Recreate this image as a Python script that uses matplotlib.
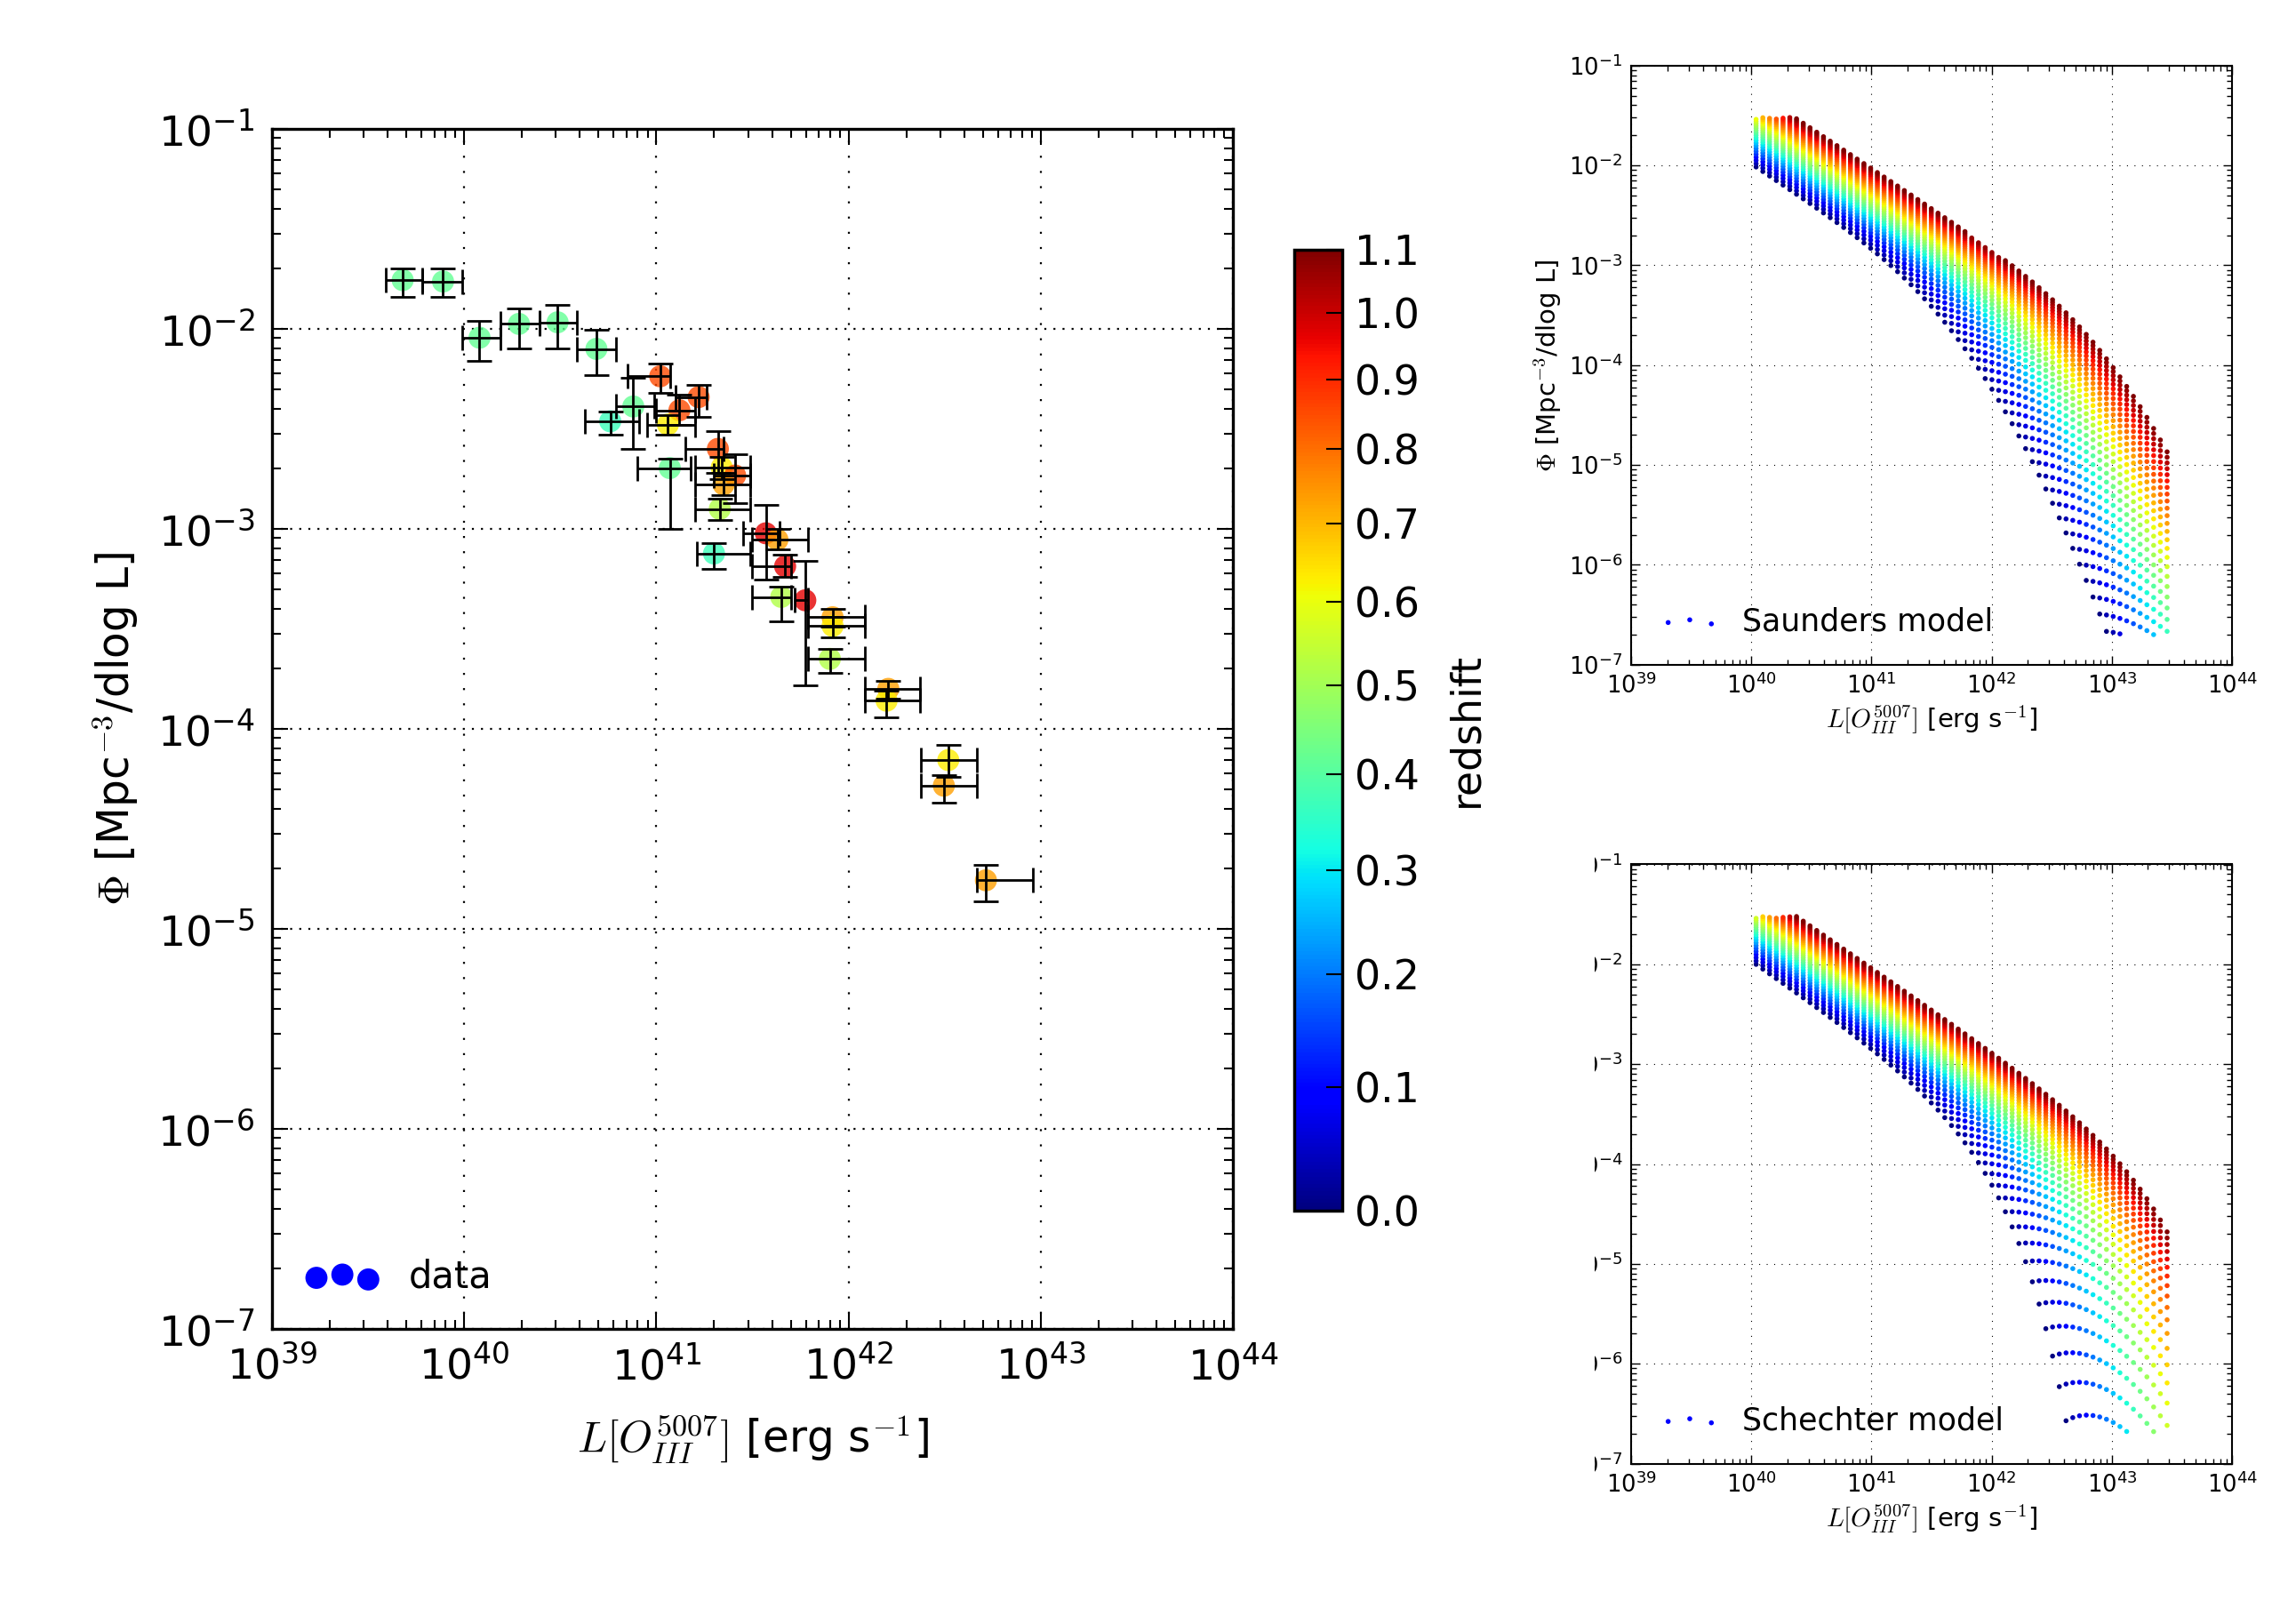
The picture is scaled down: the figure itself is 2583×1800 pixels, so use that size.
import numpy as np
import matplotlib
matplotlib.use("Agg")
import matplotlib.pyplot as plt
from matplotlib import rc
import matplotlib.cm as cm
from matplotlib.patches import Rectangle
from matplotlib.ticker import LogLocator, NullFormatter

rc('mathtext', fontset='cm')
plt.rcParams['font.family'] = ['DejaVu Sans']

# data: log10 L[OIII], log10 Phi, bin edges / error limits, redshift
logL = np.array([39.68, 39.89, 40.08, 40.285, 40.486, 40.688, 41.02, 40.76,
                 40.88, 41.12, 41.22, 41.06, 41.07, 41.32, 41.34, 41.41,
                 41.35, 41.33, 41.30, 41.57, 41.63, 41.67, 41.65, 41.775,
                 41.917, 41.917, 41.903, 42.207, 42.198, 42.519, 42.496, 42.715])
logL_lo = np.array([39.59, 39.78, 39.99, 40.19, 40.39, 40.585, 40.85, 40.63,
                    40.79, 41.0, 41.1, 40.95, 40.9, 41.15, 41.2, 41.3,
                    41.2, 41.2, 41.21, 41.45, 41.5, 41.5, 41.5, 41.72,
                    41.789, 41.789, 41.789, 42.083, 42.083, 42.378, 42.378, 42.667])
logL_hi = np.array([39.78, 39.99, 40.19, 40.39, 40.585, 40.79, 41.07, 40.91,
                    40.99, 41.2, 41.26, 41.2, 41.18, 41.35, 41.49, 41.49,
                    41.49, 41.49, 41.49, 41.64, 41.79, 41.7, 41.7, 41.79,
                    42.083, 42.083, 42.083, 42.372, 42.372, 42.667, 42.667, 42.957])
logphi = np.array([-1.756, -1.763, -2.044, -1.975, -1.967, -2.10, -2.237, -2.462,
                   -2.388, -2.407, -2.341, -2.478, -2.696, -2.60, -2.693, -2.733,
                   -2.778, -2.90, -3.123, -3.022, -3.054, -3.187, -3.34, -3.357,
                   -3.442, -3.485, -3.65, -3.80, -3.859, -4.156, -4.284, -4.757])
logphi_lo = np.array([-1.84, -1.84, -2.16, -2.096, -2.096, -2.23, -2.319, -2.53,
                      -2.6, -2.48, -2.44, -2.53, -3.0, -2.72, -2.75, -2.872,
                      -2.83, -2.955, -3.2, -3.255, -3.1, -3.24, -3.46, -3.78,
                      -3.49, -3.54, -3.72, -3.85, -3.944, -4.24, -4.37, -4.862])
logphi_hi = np.array([-1.696, -1.696, -1.96, -1.896, -1.88, -2.003, -2.173, -2.415,
                      -2.244, -2.33, -2.281, -2.43, -2.65, -2.51, -2.64, -2.626,
                      -2.72, -2.85, -3.07, -2.88, -3.0, -3.13, -3.29, -3.16,
                      -3.40, -3.44, -3.599, -3.76, -3.81, -4.08, -4.23, -4.678])
redshift = np.array([0.42, 0.42, 0.42, 0.42, 0.42, 0.42, 0.85, 0.37,
                     0.42, 0.85, 0.85, 0.63, 0.42, 0.85, 0.63, 0.85,
                     0.73, 0.52, 0.37, 0.97, 0.73, 0.97, 0.52, 0.97,
                     0.73, 0.63, 0.52, 0.73, 0.63, 0.63, 0.73, 0.73])
cbar_ticks = [0.0, 0.1, 0.2, 0.3, 0.4, 0.5, 0.6, 0.7, 0.8, 0.9, 1.0, 1.1]

# model grid (luminosity columns and redshift steps)
model_logL = np.linspace(40.04, 43.46, 62)
model_z = np.linspace(0.0, 1.1, 34)

# Saunders: phi*, L*, alpha, sigma; Schechter: phi*, L*, slope; evolution (1+z)^k in L, (1+z)^p in phi
sau_logphi, sau_logLs, sau_alpha, sau_sigma, sau_k, sau_p = -2.783, 41.0, 1.8, 0.91, 4.0, -0.87
sch_logphi, sch_logLs, sch_slope, sch_k, sch_p = -3.513, 41.87, -0.83, 4.5, -1.4
# region where model points are kept
cap_logL = [39.0, 40.45, 42.17, 44.0]
cap_logphi = [-1.52, -1.52, -3.0, -3.0]
floor_logphi = -6.7


def saunders(l, z):
    x = 10 ** (l - sau_k * np.log10(1 + z) - sau_logLs)
    return (sau_logphi + (1 - sau_alpha) * np.log10(x)
            - np.log10(1 + x) ** 2 / (2 * sau_sigma ** 2) + sau_p * np.log10(1 + z))


def schechter(l, z):
    u = l - sch_k * np.log10(1 + z) - sch_logLs
    return sch_logphi + sch_slope * u - np.log10(np.e) * 10 ** u + sch_p * np.log10(1 + z)


W, H = 2583.0, 1800.0
fig = plt.figure(figsize=(W / 100, H / 100), dpi=100)
norm = plt.Normalize(0, np.log10(2.1))

# main panel
ax = fig.add_axes([306 / W, 1 - 1495 / H, 1081 / W, 1350 / H])
L = 10 ** logL
phi = 10 ** logphi
sc = ax.scatter(L, phi, c=np.log10(1 + redshift), cmap='jet', norm=norm, s=320,
                alpha=0.8, edgecolors='none', zorder=2)
ax.errorbar(L, phi, xerr=[L - 10 ** logL_lo, 10 ** logL_hi - L],
            yerr=[phi - 10 ** logphi_lo, 10 ** logphi_hi - phi], fmt='none',
            ecolor='k', elinewidth=2.0, capsize=10, capthick=2.0, zorder=3)
ax.scatter([], [], s=320, c='b', edgecolors='none', label='data')
ax.set_xscale('log')
ax.set_yscale('log')
ax.set_xlim(1e39, 1e44)
ax.set_ylim(1e-7, 1e-1)
ax.xaxis.grid(True, which='major', color='k', linestyle=(0, (1, 6.7)), linewidth=1.6)
ax.yaxis.grid(True, which='major', color='k', linestyle=(0, (1, 3.6)), linewidth=1.6)
for a in (ax.xaxis, ax.yaxis):
    a.set_major_locator(LogLocator(base=10, numticks=20))
    a.set_minor_locator(LogLocator(base=10, subs=np.arange(2, 10), numticks=100))
    a.set_minor_formatter(NullFormatter())
ax.tick_params(which='both', direction='in', top=True, right=True, width=1.5)
ax.tick_params(which='major', length=13, labelsize=34, pad=14)
ax.tick_params(which='minor', length=7)
for sp in ax.spines.values():
    sp.set_linewidth(2.4)
ax.set_xlabel(r'$L[O_{III}^{5007}]$ [erg s$^{-1}$]', fontsize=35, labelpad=20)
ax.set_ylabel(r'$\Phi$ [Mpc$^{-3}$/dlog L]', fontsize=35, labelpad=14)
ax.legend(loc='lower left', frameon=False, scatterpoints=3, fontsize=30)

# colorbar (linear in log(1+z), labelled in z)
cax = fig.add_axes([1456 / W, 1 - 1361.5 / H, 54 / W, 1080.5 / H])
sm = cm.ScalarMappable(norm=norm, cmap='jet')
cb = fig.colorbar(sm, cax=cax, ticks=np.log10(1 + np.array(cbar_ticks)))
cb.set_ticklabels(['%.1f' % t for t in cbar_ticks])
cb.outline.set_linewidth(2.5)
cax.tick_params(direction='in', length=13, width=1.5, labelsize=33, pad=10)
cb.set_label('redshift', fontsize=33, labelpad=22)

# model panels
LL, ZZ = np.meshgrid(model_logL, model_z)
cap = np.interp(LL, cap_logL, cap_logphi)
panels = [(saunders, 'Saunders model', 1 - 747.7 / H, True),
          (schechter, 'Schechter model', 1 - 1646.5 / H, False)]
for func, name, y0, ylab in panels:
    m = func(LL, ZZ)
    keep = (m <= cap) & (m >= floor_logphi)
    axm = fig.add_axes([1835 / W, y0, 676 / W, 674 / H])
    axm.scatter(10 ** LL[keep], 10 ** m[keep], c=np.log10(1 + ZZ[keep]), cmap='jet',
                norm=norm, s=16, linewidths=0, zorder=2)
    axm.scatter([], [], s=16, c='b', linewidths=0, label=name)
    axm.set_xscale('log')
    axm.set_yscale('log')
    axm.set_xlim(1e39, 1e44)
    axm.set_ylim(1e-7, 1e-1)
    axm.grid(True, which='major', color='k', linestyle=(0, (1, 6.6)), linewidth=0.8)
    for a in (axm.xaxis, axm.yaxis):
        a.set_major_locator(LogLocator(base=10, numticks=20))
        a.set_minor_locator(LogLocator(base=10, subs=np.arange(2, 10), numticks=100))
        a.set_minor_formatter(NullFormatter())
    axm.tick_params(which='both', direction='in', top=True, right=True, width=1)
    axm.tick_params(which='major', length=7, labelsize=18.5, pad=7)
    axm.tick_params(which='minor', length=4)
    for sp in axm.spines.values():
        sp.set_linewidth(1.5)
    axm.set_xlabel(r'$L[O_{III}^{5007}]$ [erg s$^{-1}$]', fontsize=21, labelpad=4)
    if ylab:
        axm.set_ylabel(r'$\Phi$ [Mpc$^{-3}$/dlog L]', fontsize=21, labelpad=4)
    axm.legend(loc='lower left', frameon=False, scatterpoints=3, fontsize=25,
               handletextpad=0.7)

# lower panel was cropped on its left edge
fig.add_artist(Rectangle((1690 / W, 1 - 1680 / H), 104 / W, 740 / H,
                         transform=fig.transFigure, facecolor='white',
                         edgecolor='none', zorder=10))

fig.savefig('out.png', dpi=100)
